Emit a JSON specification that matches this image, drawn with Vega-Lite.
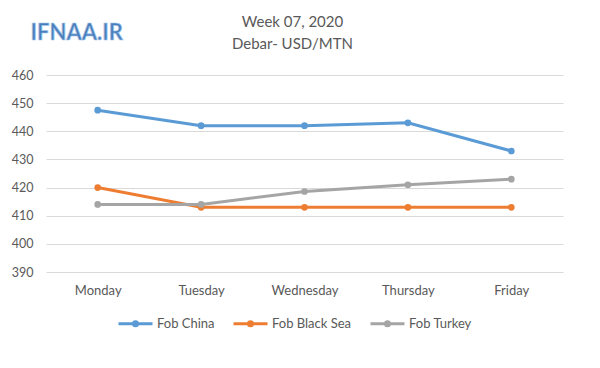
{
  "$schema": "https://vega.github.io/schema/vega-lite/v6.json",
  "width": 517,
  "height": 197,
  "autosize": {"type": "none"},
  "padding": {"left": 46, "top": 75, "right": 37, "bottom": 96},
  "background": "white",
  "title": {
    "text": ["Week 07, 2020", "Debar- USD/MTN"],
    "font": "Lato",
    "fontSize": 15,
    "fontWeight": "normal",
    "color": "#595959",
    "lineHeight": 22,
    "anchor": "middle",
    "dx": -12,
    "offset": -30
  },
  "config": {
    "view": {"stroke": null},
    "font": "Lato"
  },
  "layer": [
    {
      "data": {
        "values": [
          {"day": "Monday", "series": "Fob China", "price": 447.5},
          {"day": "Tuesday", "series": "Fob China", "price": 442},
          {"day": "Wednesday", "series": "Fob China", "price": 442},
          {"day": "Thursday", "series": "Fob China", "price": 443},
          {"day": "Friday", "series": "Fob China", "price": 433},
          {"day": "Monday", "series": "Fob Black Sea", "price": 420},
          {"day": "Tuesday", "series": "Fob Black Sea", "price": 413},
          {"day": "Wednesday", "series": "Fob Black Sea", "price": 413},
          {"day": "Thursday", "series": "Fob Black Sea", "price": 413},
          {"day": "Friday", "series": "Fob Black Sea", "price": 413},
          {"day": "Monday", "series": "Fob Turkey", "price": 414},
          {"day": "Tuesday", "series": "Fob Turkey", "price": 414},
          {"day": "Wednesday", "series": "Fob Turkey", "price": 418.6},
          {"day": "Thursday", "series": "Fob Turkey", "price": 421},
          {"day": "Friday", "series": "Fob Turkey", "price": 423}
        ]
      },
      "mark": {"type": "line", "strokeWidth": 3, "point": {"filled": true, "size": 45}},
      "encoding": {
        "x": {
          "field": "day",
          "type": "nominal",
          "sort": ["Monday", "Tuesday", "Wednesday", "Thursday", "Friday"],
          "scale": {"paddingInner": 0, "paddingOuter": 0.5},
          "axis": {
            "title": null,
            "labelAngle": 0,
            "labelFont": "Lato",
            "labelFontSize": 13,
            "labelColor": "#595959",
            "labelPadding": 12,
            "ticks": false,
            "domain": false,
            "grid": false
          }
        },
        "y": {
          "field": "price",
          "type": "quantitative",
          "scale": {"domain": [390, 460], "zero": false, "nice": false},
          "axis": {
            "title": null,
            "values": [390, 400, 410, 420, 430, 440, 450, 460],
            "labelOverlap": false,
            "labelFont": "Lato",
            "labelFontSize": 12.5,
            "labelColor": "#595959",
            "labelPadding": 13,
            "ticks": false,
            "domain": false,
            "gridColor": "#d9d9d9",
            "gridWidth": 1
          }
        },
        "color": {
          "field": "series",
          "type": "nominal",
          "sort": ["Fob China", "Fob Black Sea", "Fob Turkey"],
          "scale": {
            "domain": ["Fob China", "Fob Black Sea", "Fob Turkey"],
            "range": ["#5b9bd5", "#ed7d31", "#a5a5a5"]
          },
          "legend": {
            "orient": "none",
            "legendX": 71,
            "legendY": 230,
            "direction": "horizontal",
            "title": null,
            "symbolType": "M-1,0L1,0M-0.12,0A0.12,0.12,0,1,0,0.12,0A0.12,0.12,0,1,0,-0.12,0Z",
            "symbolSize": 1156,
            "symbolStrokeWidth": 3,
            "labelFont": "Lato",
            "labelFontSize": 13,
            "labelColor": "#595959",
            "labelOffset": 3,
            "columnPadding": 12,
            "encode": {
              "symbols": {"update": {"fill": {"scale": "color", "field": "value"}}}
            }
          }
        }
      }
    },
    {
      "data": {"values": [{"label": "IFNAA.IR"}]},
      "mark": {
        "type": "text",
        "font": "Lato",
        "fontSize": 22,
        "fontWeight": "bold",
        "fill": "#4a7ebb",
        "stroke": "#a9c6ea",
        "strokeWidth": 0.7,
        "align": "center",
        "baseline": "middle",
        "dx": -21
      },
      "encoding": {
        "x": {
          "datum": "Monday",
          "type": "nominal",
          "axis": {
            "title": null,
            "labelAngle": 0,
            "labelFont": "Lato",
            "labelFontSize": 13,
            "labelColor": "#595959",
            "labelPadding": 12,
            "ticks": false,
            "domain": false,
            "grid": false
          }
        },
        "y": {
          "datum": 475,
          "type": "quantitative",
          "axis": {
            "title": null,
            "values": [390, 400, 410, 420, 430, 440, 450, 460],
            "labelOverlap": false,
            "labelFont": "Lato",
            "labelFontSize": 12.5,
            "labelColor": "#595959",
            "labelPadding": 13,
            "ticks": false,
            "domain": false,
            "gridColor": "#d9d9d9",
            "gridWidth": 1
          }
        },
        "text": {"field": "label"}
      }
    }
  ]
}
